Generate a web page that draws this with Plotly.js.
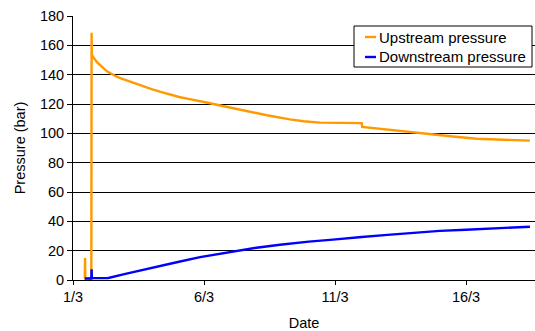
<!DOCTYPE html>
<html>
<head>
<meta charset="utf-8">
<script src="https://cdn.plot.ly/plotly-3.0.1.min.js"></script>
<style>html,body{margin:0;padding:0;background:#fff;}#chart{width:535px;height:331px;}</style>
</head>
<body>
<div id="chart"></div>
<script>
// Days in March (1 = 1/3)
const upDays = [1.45, 1.46, 1.47, 1.70, 1.71, 1.72, 1.78, 1.84, 1.93, 2.03, 2.12, 2.22, 2.31, 2.41, 2.53, 2.67, 2.83, 3.0, 3.2, 3.43, 3.7, 4.0, 4.35, 4.70, 5.05, 5.4, 5.85, 6.10, 6.8, 7.56, 8.4, 9.28, 9.8, 10.43, 11.2, 12.02, 12.04, 12.8, 13.6, 14.37, 14.8, 15.5, 16.41, 17.0, 17.6, 18.0, 18.44];
const upVals = [1, 15, 1, 1, 168.5, 153.5, 151.8, 150, 148.2, 146.6, 144.9, 143.4, 142.1, 141, 139.8, 138.6, 137.4, 136.3, 135.0, 133.8, 132.1, 130.2, 128.2, 126.3, 124.8, 123.5, 122, 121, 118.3, 115.3, 112.3, 109.5, 108.2, 107.3, 107.2, 107, 104.3, 102.8, 101.2, 100, 99, 97.8, 96.3, 96.0, 95.8, 95.4, 95];
const downDays = [1.45, 1.70, 1.71, 1.72, 2.0, 2.35, 3.0, 4.0, 5.0, 5.85, 6.10, 7.0, 8.0, 8.9, 10.0, 10.92, 11.6, 12.02, 13.0, 14.1, 15.0, 16.0, 16.65, 17.5, 18.44];
const downVals = [1, 1, 7.3, 1.3, 1.3, 1.4, 4.2, 8.5, 12.3, 15.6, 16.4, 19.3, 22.0, 24.0, 26.2, 27.5, 28.3, 29.3, 30.8, 32.5, 33.5, 34.3, 34.9, 35.6, 36.3];
const tickVals = [1, 6, 11, 16];
const tickText = ["1/3", "6/3", "11/3", "16/3"];
const seriesNames = ["Upstream pressure", "Downstream pressure"];
const seriesColors = ["#FF9900", "#0000FF"];

const L = 73, R = 535, T = 16, B = 280;
const W = R - L, H = B - T;
const px = x => (x - L) / W;
const py = y => (B - y) / H;

const F = 'Liberation Sans, Arial, sans-serif';

const traces = [
  {x: upDays, y: upVals, type: 'scatter', mode: 'lines', name: seriesNames[0],
   line: {color: seriesColors[0], width: 2.4}, showlegend: false},
  {x: downDays, y: downVals, type: 'scatter', mode: 'lines', name: seriesNames[1],
   line: {color: seriesColors[1], width: 2.4}, showlegend: false}
];

const shapes = [
  {type: 'rect', xref: 'paper', yref: 'paper', x0: px(354), x1: px(532), y0: py(26), y1: py(67),
   line: {color: '#000', width: 1}, fillcolor: '#fff', layer: 'above'},
  {type: 'line', xref: 'paper', yref: 'paper', x0: px(365), x1: px(376), y0: py(37), y1: py(37),
   line: {color: seriesColors[0], width: 2.4}, layer: 'above'},
  {type: 'line', xref: 'paper', yref: 'paper', x0: px(365), x1: px(376), y0: py(57), y1: py(57),
   line: {color: seriesColors[1], width: 2.4}, layer: 'above'}
];
const annotations = [
  {xref: 'paper', yref: 'paper', x: px(377), y: py(37), xanchor: 'left', yanchor: 'middle',
   text: seriesNames[0], showarrow: false, font: {family: F, size: 15, color: '#000'}},
  {xref: 'paper', yref: 'paper', x: px(377), y: py(57), xanchor: 'left', yanchor: 'middle',
   text: seriesNames[1], showarrow: false, font: {family: F, size: 15, color: '#000'}}
];

const layout = {
  width: 535, height: 331,
  margin: {l: L, r: 535 - R, t: T, b: 331 - B, pad: 0},
  paper_bgcolor: '#fff', plot_bgcolor: '#fff',
  font: {family: F, size: 14, color: '#000'},
  showlegend: false,
  xaxis: {
    range: [1, 1 + (R - L) / 26.2], tickmode: 'array', tickvals: tickVals, ticktext: tickText,
    showgrid: false, zeroline: false, showline: true, linecolor: '#000', linewidth: 1,
    ticks: 'outside', ticklen: 4, tickcolor: '#000', tickfont: {family: F, size: 14.5},
    title: {text: 'Date', font: {family: F, size: 14.5}, standoff: 14}
  },
  yaxis: {
    range: [0, 180], tick0: 0, dtick: 20,
    showgrid: true, gridcolor: '#000', gridwidth: 1, zeroline: false,
    showline: true, linecolor: '#000', linewidth: 1,
    ticks: 'outside', ticklen: 5, tickcolor: '#000', tickfont: {family: F, size: 14.5},
    title: {text: 'Pressure (bar)', font: {family: F, size: 14.5}, standoff: 10}
  },
  shapes: shapes,
  annotations: annotations
};

Plotly.newPlot('chart', traces, layout, {displayModeBar: false, staticPlot: true});
</script>
</body>
</html>
